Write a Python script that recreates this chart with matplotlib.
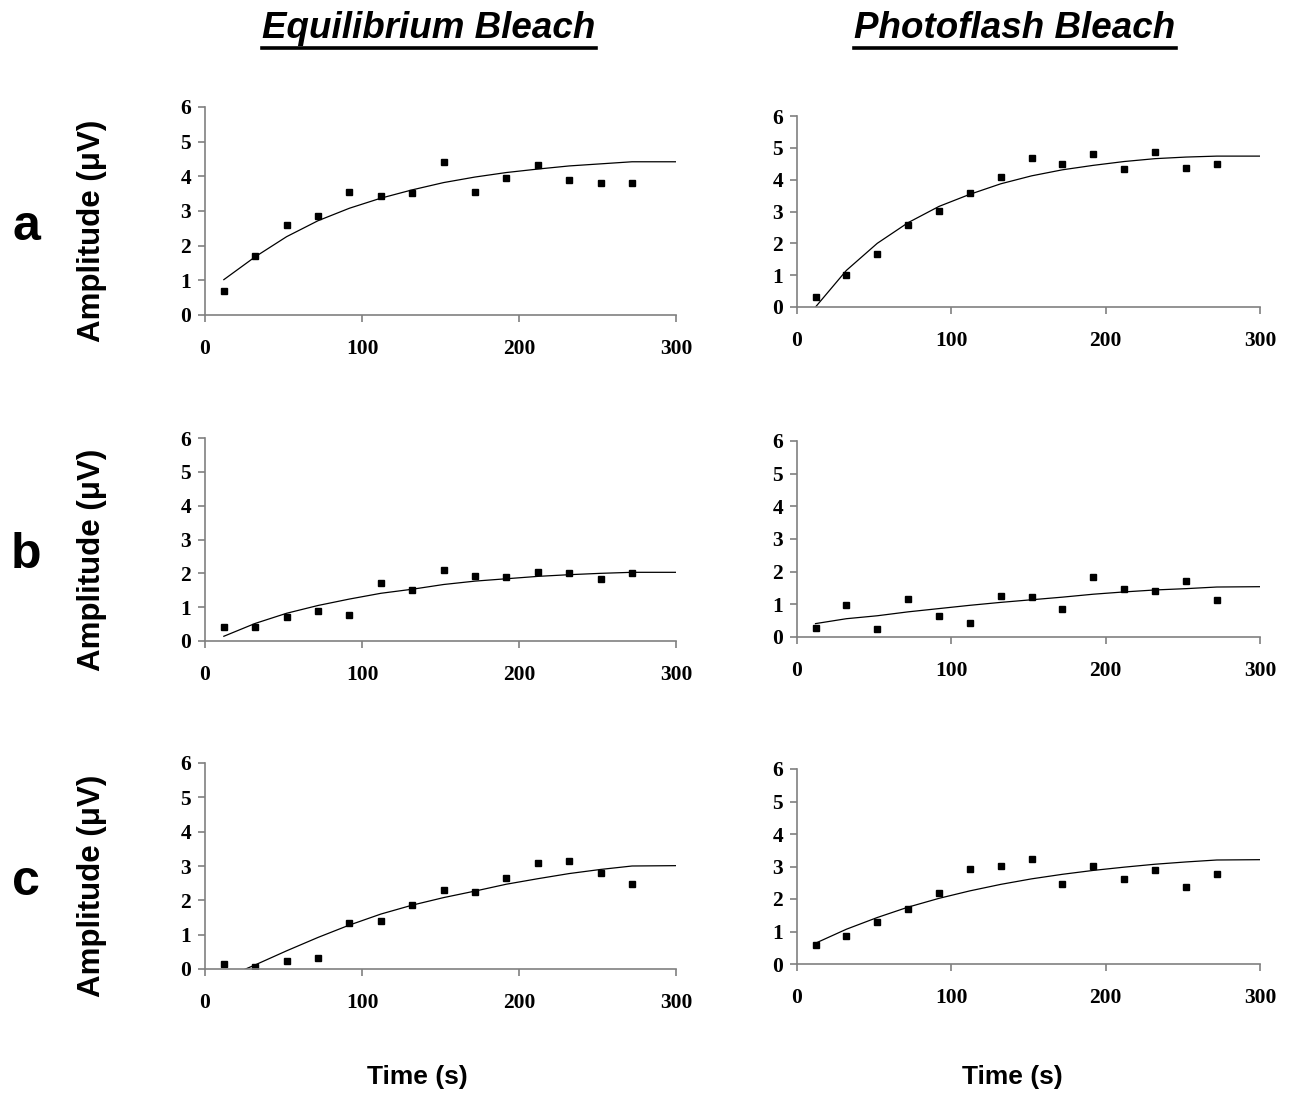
import numpy as np
import matplotlib
matplotlib.use("Agg")
from matplotlib import pyplot as plt
from matplotlib.lines import Line2D

# time points of the measurements (s)
t = [12, 32, 52, 72, 92, 112, 132, 152, 172, 192, 212, 232, 252, 272]
# fit curve is drawn through the same times, then held flat to 300 s
t_fit = t + [300]

# row a
eq_a = [0.70, 1.69, 2.59, 2.85, 3.55, 3.44, 3.52, 4.40, 3.55, 3.96, 4.34, 3.90, 3.82, 3.82]
eq_a_fit = [1.02, 1.68, 2.26, 2.72, 3.08, 3.37, 3.61, 3.82, 3.98, 4.11, 4.21, 4.30, 4.36, 4.42, 4.42]
pf_a = [0.31, 1.00, 1.66, 2.57, 3.01, 3.57, 4.08, 4.67, 4.48, 4.80, 4.33, 4.86, 4.36, 4.48]
pf_a_fit = [0.00, 1.15, 2.00, 2.65, 3.16, 3.54, 3.87, 4.12, 4.31, 4.45, 4.57, 4.66, 4.71, 4.74, 4.74]

# row b
eq_b = [0.40, 0.40, 0.70, 0.88, 0.76, 1.70, 1.52, 2.11, 1.91, 1.88, 2.03, 2.00, 1.82, 2.00]
eq_b_fit = [0.14, 0.52, 0.82, 1.05, 1.24, 1.41, 1.53, 1.67, 1.77, 1.84, 1.91, 1.96, 2.00, 2.03, 2.03]
pf_b = [0.28, 0.98, 0.24, 1.16, 0.64, 0.43, 1.26, 1.22, 0.86, 1.84, 1.47, 1.41, 1.71, 1.13]
pf_b_fit = [0.41, 0.56, 0.65, 0.77, 0.87, 0.97, 1.06, 1.14, 1.22, 1.31, 1.38, 1.44, 1.48, 1.53, 1.54]

# row c
eq_c = [0.14, 0.06, 0.22, 0.31, 1.33, 1.41, 1.85, 2.31, 2.23, 2.66, 3.10, 3.16, 2.81, 2.49]
eq_c_fit = [-0.27, 0.12, 0.53, 0.92, 1.28, 1.60, 1.86, 2.08, 2.27, 2.47, 2.63, 2.78, 2.90, 3.00, 3.01]
pf_c = [0.58, 0.85, 1.28, 1.69, 2.18, 2.92, 3.01, 3.23, 2.46, 3.01, 2.61, 2.89, 2.36, 2.76]
pf_c_fit = [0.64, 1.07, 1.43, 1.75, 2.02, 2.25, 2.45, 2.62, 2.76, 2.88, 2.98, 3.07, 3.14, 3.20, 3.21]

row_labels = ["a", "b", "c"]
col_titles = ["Equilibrium Bleach", "Photoflash Bleach"]

panels = [
    [(eq_a, eq_a_fit), (pf_a, pf_a_fit)],
    [(eq_b, eq_b_fit), (pf_b, pf_b_fit)],
    [(eq_c, eq_c_fit), (pf_c, pf_c_fit)],
]

W, H = 1290, 1099
# axes boxes in pixels: (left, top, right, bottom)
boxes = [
    [(205, 107, 676, 315), (797, 116, 1260, 307)],
    [(205, 438, 676, 641), (797, 441, 1260, 637)],
    [(205, 763, 676, 969), (797, 769, 1260, 964)],
]

fig = plt.figure(figsize=(W / 100, H / 100), dpi=100)
sans = "Liberation Sans"
serif = "Liberation Serif"
axis_col = "#808080"

for r in range(3):
    for c in range(2):
        l, tp, rt, bt = boxes[r][c]
        ax = fig.add_axes([l / W, 1 - bt / H, (rt - l) / W, (bt - tp) / H])
        pts, fit = panels[r][c]
        ax.plot(t_fit, fit, color="black", lw=0.9)
        ax.plot(t, pts, "s", color="black", ms=4.5, mec="black")
        ax.set_xlim(0, 300)
        ax.set_ylim(0, 6)
        ax.set_xticks([0, 100, 200, 300])
        ax.set_yticks(range(7))
        for s in ["top", "right"]:
            ax.spines[s].set_visible(False)
        for s in ["left", "bottom"]:
            ax.spines[s].set_color(axis_col)
            ax.spines[s].set_linewidth(1.2)
        ax.tick_params(direction="out", color=axis_col, width=1.2, length=5)
        ax.tick_params(axis="x", pad=12)
        ax.tick_params(axis="y", pad=5)
        for lab in ax.get_xticklabels() + ax.get_yticklabels():
            lab.set_fontfamily(serif)
            lab.set_fontweight("bold")
            lab.set_fontsize(15.5)
        if c == 0:
            mid = (tp + bt) / 2
            fig.text(92 / W, 1 - (mid + 20) / H, "Amplitude (\u03bcV)", rotation=90,
                     ha="center", va="center", fontfamily=sans, fontweight="bold", fontsize=22.5)
            fig.text(26 / W, 1 - (mid + 16) / H, row_labels[r], ha="center", va="center",
                     fontfamily=sans, fontweight="bold", fontsize=36)

# column titles, underlined
title_x = [429, 1015]
fig.canvas.draw()
renderer = fig.canvas.get_renderer()
for x, title in zip(title_x, col_titles):
    txt = fig.text(x / W, 1 - 28 / H, title, ha="center", va="center", fontfamily=sans,
                   fontweight="bold", fontstyle="italic", fontsize=26.5)
    bb = txt.get_window_extent(renderer=renderer)
    y_line = 1 - 48 / H
    fig.add_artist(Line2D([bb.x0 / W, bb.x1 / W], [y_line, y_line], color="black", lw=2.6,
                          transform=fig.transFigure))

for x in [417, 1012]:
    fig.text(x / W, 1 - 1077 / H, "Time (s)", ha="center", va="center", fontfamily=sans,
             fontweight="bold", fontsize=19)

fig.savefig("out.png", dpi=100, facecolor="white")
